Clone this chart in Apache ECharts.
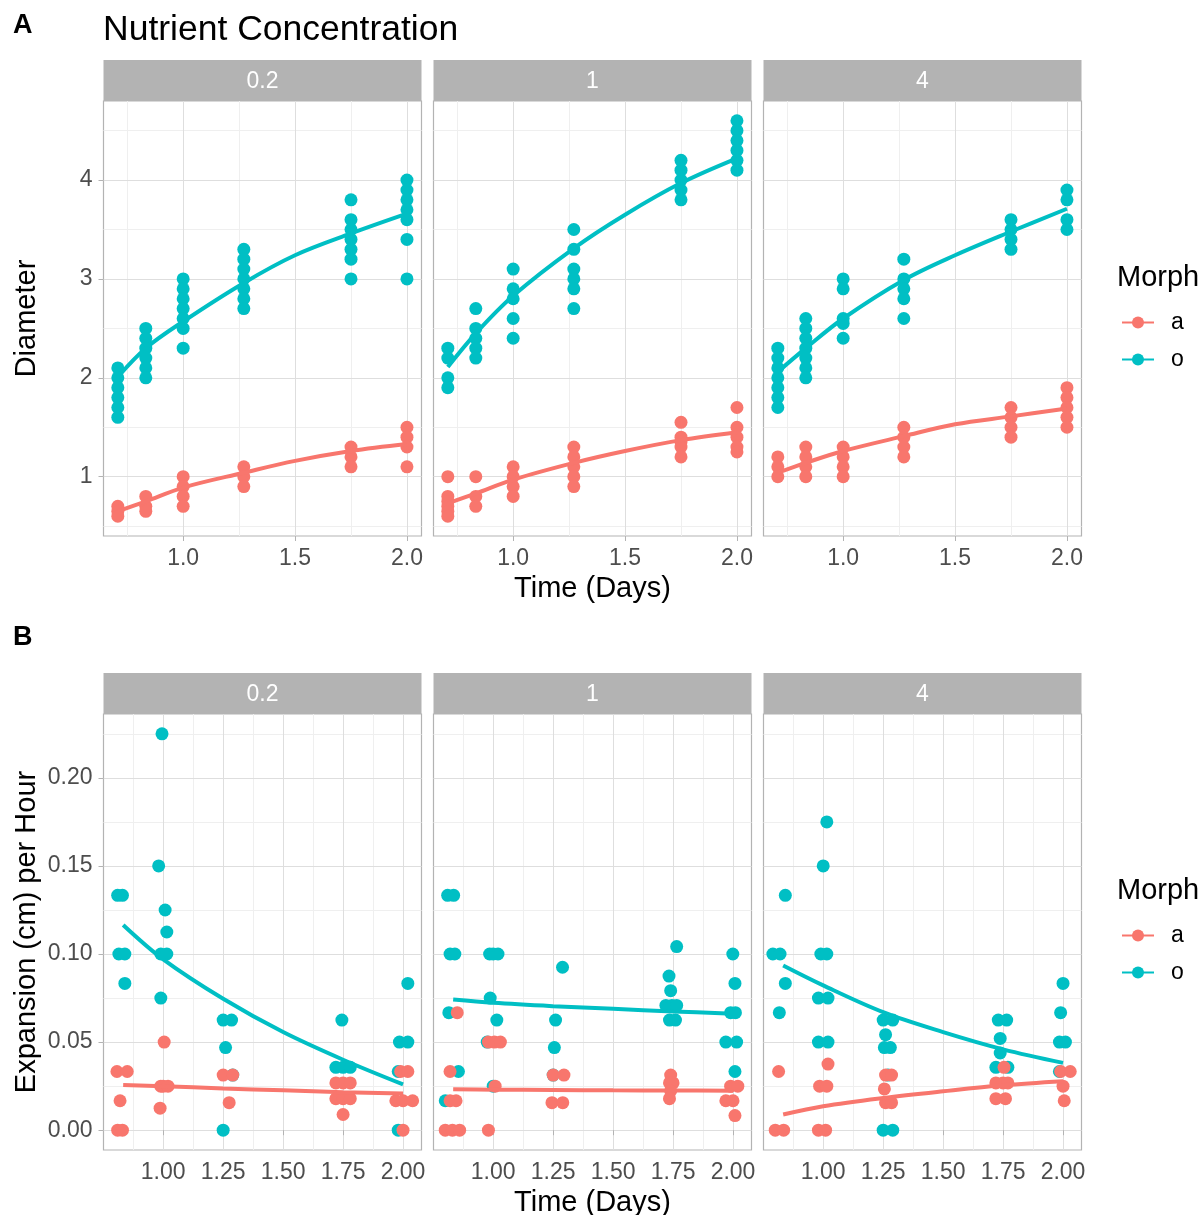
<!DOCTYPE html>
<html>
<head>
<meta charset="utf-8">
<title>Nutrient Concentration</title>
<script src="https://cdn.jsdelivr.net/npm/echarts@6/dist/echarts.min.js"></script>
<style>
  html, body { margin: 0; padding: 0; background: #ffffff; }
  #chart { width: 1204px; height: 1215px; }
</style>
</head>
<body>
<div id="chart"></div>
<script>
// ---------- data ----------
const facetLabels = ['0.2', '1', '4'];
const morphs = ['a', 'o'];

// Panel A: sampling times (days) and diameters measured at each time
const timesA = [0.708, 0.833, 1.0, 1.271, 1.75, 2.0];

const diamA_02 = [[0.7, 0.65, 0.6], [0.8, 0.7, 0.65], [1.0, 0.9, 0.8, 0.7], [1.1, 1.0, 0.9], [1.3, 1.2, 1.1], [1.5, 1.4, 1.3, 1.1]];
const diamO_02 = [[2.1, 2.0, 1.9, 1.8, 1.7, 1.6], [2.5, 2.4, 2.3, 2.2, 2.1, 2.0], [3.0, 2.9, 2.8, 2.7, 2.6, 2.5, 2.3], [3.3, 3.2, 3.1, 3.0, 2.9, 2.8, 2.7], [3.8, 3.6, 3.5, 3.4, 3.3, 3.2, 3.0], [4.0, 3.9, 3.8, 3.7, 3.6, 3.4, 3.0]];
const diamA_1 = [[1.0, 0.8, 0.75, 0.7, 0.65, 0.6], [1.0, 0.8, 0.7], [1.1, 1.0, 0.9, 0.8], [1.3, 1.2, 1.1, 1.0, 0.9], [1.55, 1.4, 1.35, 1.3, 1.2], [1.7, 1.5, 1.4, 1.3, 1.25]];
const diamO_1 = [[2.3, 2.2, 2.0, 1.9], [2.7, 2.5, 2.4, 2.3, 2.2], [3.1, 2.9, 2.8, 2.6, 2.4], [3.5, 3.3, 3.1, 3.0, 2.9, 2.7], [4.2, 4.1, 4.0, 3.9, 3.8], [4.6, 4.5, 4.4, 4.3, 4.2, 4.1]];
const diamA_4 = [[1.2, 1.1, 1.0], [1.3, 1.2, 1.1, 1.0], [1.3, 1.2, 1.1, 1.0], [1.5, 1.4, 1.3, 1.2], [1.7, 1.6, 1.5, 1.4], [1.9, 1.8, 1.7, 1.6, 1.5]];
const diamO_4 = [[2.3, 2.2, 2.1, 2.0, 1.9, 1.8, 1.7], [2.6, 2.5, 2.4, 2.3, 2.2, 2.1, 2.0], [3.0, 2.9, 2.6, 2.55, 2.4], [3.2, 3.0, 2.9, 2.8, 2.6], [3.6, 3.5, 3.4, 3.3], [3.9, 3.8, 3.6, 3.5]];

// Panel A: fitted growth curves [time, diameter]
const fitDiamA_02 = [[0.708, 0.65], [0.833, 0.75], [1.0, 0.89], [1.271, 1.04], [1.5, 1.16], [1.75, 1.26], [2.0, 1.33]];
const fitDiamO_02 = [[0.708, 2.01], [0.833, 2.30], [1.0, 2.57], [1.271, 2.96], [1.5, 3.24], [1.75, 3.46], [2.0, 3.66]];
const fitDiamA_1 = [[0.708, 0.73], [0.833, 0.83], [1.0, 0.97], [1.271, 1.14], [1.5, 1.26], [1.75, 1.37], [2.0, 1.45]];
const fitDiamO_1 = [[0.708, 2.11], [0.833, 2.45], [1.0, 2.83], [1.271, 3.31], [1.5, 3.65], [1.75, 3.97], [2.0, 4.22]];
const fitDiamA_4 = [[0.708, 1.04], [0.833, 1.14], [1.0, 1.26], [1.271, 1.41], [1.5, 1.53], [1.75, 1.61], [2.0, 1.69]];
const fitDiamO_4 = [[0.708, 2.06], [0.833, 2.30], [1.0, 2.60], [1.271, 2.99], [1.5, 3.24], [1.75, 3.48], [2.0, 3.71]];

// Panel B: expansion rate (cm per hour), jittered in time [time, rate]
const rateA_02 = [[0.807, 0.0333], [0.85, 0.0333], [0.82, 0.0167], [0.81, 0.0], [0.83, 0.0], [1.004, 0.05], [0.99, 0.025], [1.0, 0.025], [1.02, 0.025], [0.987, 0.0125], [1.25, 0.0313], [1.29, 0.0313], [1.275, 0.0156], [1.72, 0.0268], [1.75, 0.0268], [1.78, 0.0268], [1.72, 0.0179], [1.75, 0.0179], [1.78, 0.0179], [1.75, 0.0089], [1.99, 0.0333], [2.02, 0.0333], [1.97, 0.0167], [2.0, 0.0167], [2.04, 0.0167], [2.0, 0.0]];
const rateO_02 = [[0.995, 0.225], [0.981, 0.15], [0.81, 0.1333], [0.83, 0.1333], [1.008, 0.125], [1.015, 0.1125], [0.815, 0.1], [0.84, 0.1], [0.99, 0.1], [1.015, 0.1], [0.84, 0.0833], [0.99, 0.075], [1.25, 0.0625], [1.285, 0.0625], [1.26, 0.0469], [1.29, 0.0313], [1.25, 0.0], [1.745, 0.0625], [1.72, 0.0357], [1.75, 0.0357], [1.78, 0.0357], [1.985, 0.05], [2.02, 0.05], [2.02, 0.0833], [1.98, 0.0333], [1.98, 0.0]];
const rateA_1 = [[0.85, 0.0667], [0.82, 0.0333], [0.82, 0.0167], [0.845, 0.0167], [0.80, 0.0], [0.83, 0.0], [0.86, 0.0], [0.98, 0.05], [1.005, 0.05], [1.03, 0.05], [1.008, 0.025], [0.98, 0.0], [1.25, 0.0313], [1.295, 0.0313], [1.245, 0.0156], [1.29, 0.0156], [1.74, 0.0313], [1.735, 0.0268], [1.75, 0.0268], [1.74, 0.0223], [1.735, 0.0179], [1.99, 0.025], [2.02, 0.025], [1.97, 0.0167], [2.0, 0.0167], [2.008, 0.0083]];
const rateO_1 = [[0.81, 0.1333], [0.835, 0.1333], [0.82, 0.1], [0.84, 0.1], [0.985, 0.1], [1.0, 0.1], [1.02, 0.1], [0.9875, 0.075], [0.815, 0.0667], [1.015, 0.0625], [0.975, 0.05], [0.855, 0.0333], [0.80, 0.0167], [1.0, 0.025], [1.289, 0.0925], [1.26, 0.0625], [1.255, 0.0469], [1.25, 0.0313], [1.765, 0.1042], [1.733, 0.0875], [1.74, 0.0792], [1.72, 0.0708], [1.745, 0.0708], [1.765, 0.0708], [1.735, 0.0625], [1.76, 0.0625], [1.999, 0.1], [2.008, 0.0833], [1.99, 0.0667], [2.01, 0.0667], [1.97, 0.05], [2.015, 0.05], [2.008, 0.0333]];
const rateA_4 = [[0.814, 0.0333], [0.80, 0.0], [0.835, 0.0], [1.02, 0.0375], [0.985, 0.025], [1.015, 0.025], [0.98, 0.0], [1.01, 0.0], [1.26, 0.0313], [1.285, 0.0313], [1.255, 0.0234], [1.26, 0.0156], [1.285, 0.0156], [1.754, 0.0357], [1.72, 0.0268], [1.75, 0.0268], [1.77, 0.0268], [1.72, 0.0179], [1.76, 0.0179], [1.99, 0.0333], [2.03, 0.0333], [2.0, 0.025], [2.005, 0.0167]];
const rateO_4 = [[0.842, 0.1333], [0.79, 0.1], [0.82, 0.1], [0.842, 0.0833], [0.817, 0.0667], [1.015, 0.175], [1.0, 0.15], [0.99, 0.1], [1.015, 0.1], [0.98, 0.075], [1.02, 0.075], [0.98, 0.05], [1.02, 0.05], [1.25, 0.0625], [1.29, 0.0625], [1.26, 0.0542], [1.255, 0.0469], [1.28, 0.0469], [1.27, 0.0313], [1.25, 0.0], [1.29, 0.0], [1.73, 0.0625], [1.765, 0.0625], [1.738, 0.0521], [1.738, 0.0438], [1.72, 0.0357], [1.77, 0.0357], [2.0, 0.0833], [1.99, 0.0667], [1.985, 0.05], [2.01, 0.05], [1.985, 0.0333]];

// Panel B: fitted rate curves [time, rate]
const fitRateA_02 = [[0.833, 0.0257], [1.0, 0.025], [1.25, 0.0237], [1.5, 0.0226], [1.75, 0.0216], [2.0, 0.0208]];
const fitRateO_02 = [[0.833, 0.1165], [1.0, 0.097], [1.25, 0.0746], [1.5, 0.0557], [1.75, 0.040], [2.0, 0.026]];
const fitRateA_1 = [[0.833, 0.0232], [1.0, 0.0230], [1.25, 0.0228], [1.5, 0.0226], [1.75, 0.0225], [2.0, 0.0224]];
const fitRateO_1 = [[0.833, 0.0742], [1.0, 0.0723], [1.25, 0.0704], [1.5, 0.0689], [1.75, 0.0674], [2.0, 0.0661]];
const fitRateA_4 = [[0.833, 0.0089], [1.0, 0.0136], [1.25, 0.0183], [1.5, 0.0221], [1.75, 0.0255], [2.0, 0.0278]];
const fitRateO_4 = [[0.833, 0.0935], [1.0, 0.0822], [1.25, 0.067], [1.5, 0.0557], [1.75, 0.0459], [2.0, 0.0382]];

// Axis ranges and breaks
const rangeA_x = [0.644, 2.065];
const rangeA_y = [0.4, 4.8];
const rangeB_x = [0.751, 2.077];
const rangeB_y = [-0.01125, 0.23625];
const ticksA_x = [1.0, 1.5, 2.0];
const minorA_x = [0.75, 1.25, 1.75];
const ticksA_y = [1, 2, 3, 4];
const minorA_y = [0.5, 1.5, 2.5, 3.5, 4.5];
const ticksB_x = [1.0, 1.25, 1.5, 1.75, 2.0];
const minorB_x = [0.875, 1.125, 1.375, 1.625, 1.875];
const ticksB_y = [0, 0.05, 0.1, 0.15, 0.2];
const minorB_y = [0.025, 0.075, 0.125, 0.175, 0.225];

// ---------- style & layout ----------
const FONT = '"Liberation Sans", Arial, Helvetica, sans-serif';
const COLORS = { a: '#F8766D', o: '#00BFC4' };
const STRIP_FILL = '#B3B3B3';
const PANEL_LEFTS = [103.5, 433.5, 763.5];
const PANEL_W = 318;
const ROWS = [
  { stripTop: 60, top: 101, height: 435 },
  { stripTop: 673, top: 714, height: 436 }
];
const STRIP_H = 41;

function expand(times, groups) {
  const out = [];
  groups.forEach((vals, i) => vals.forEach(v => out.push([times[i], v])));
  return out;
}

const panelA = [
  { a: expand(timesA, diamA_02), o: expand(timesA, diamO_02), fa: fitDiamA_02, fo: fitDiamO_02 },
  { a: expand(timesA, diamA_1), o: expand(timesA, diamO_1), fa: fitDiamA_1, fo: fitDiamO_1 },
  { a: expand(timesA, diamA_4), o: expand(timesA, diamO_4), fa: fitDiamA_4, fo: fitDiamO_4 }
];
const panelB = [
  { a: rateA_02, o: rateO_02, fa: fitRateA_02, fo: fitRateO_02 },
  { a: rateA_1, o: rateO_1, fa: fitRateA_1, fo: fitRateO_1 },
  { a: rateA_4, o: rateO_4, fa: fitRateA_4, fo: fitRateO_4 }
];

const grids = [], xAxes = [], yAxes = [], series = [], graphics = [];

function majorAxis(gridIndex, range, ticks, digits, showAxis, position) {
  return {
    type: 'value', gridIndex, position, min: range[0], max: range[1], z: 1,
    axisLine: { show: false },
    axisTick: { show: showAxis, length: 5, customValues: ticks, lineStyle: { color: STRIP_FILL, width: 1 } },
    axisLabel: {
      show: showAxis, customValues: ticks, formatter: v => Number(v).toFixed(digits),
      color: '#4D4D4D', fontSize: 23, fontFamily: FONT, margin: 11
    },
    splitLine: { show: true, lineStyle: { color: '#DEDEDE', width: 1 } }
  };
}
function minorAxis(gridIndex, range, ticks, position) {
  return {
    type: 'value', gridIndex, position, min: range[0], max: range[1], z: 0,
    axisLine: { show: false },
    axisTick: { show: false, customValues: ticks },
    axisLabel: { show: false, customValues: ticks },
    splitLine: { show: true, lineStyle: { color: '#EFEFEF', width: 1 } }
  };
}

const rowDefs = [
  { panels: panelA, rx: rangeA_x, ry: rangeA_y, tx: ticksA_x, mx: minorA_x, ty: ticksA_y, my: minorA_y, dx: 1, dy: 0, yName: 'Diameter' },
  { panels: panelB, rx: rangeB_x, ry: rangeB_y, tx: ticksB_x, mx: minorB_x, ty: ticksB_y, my: minorB_y, dx: 2, dy: 2, yName: 'Expansion (cm) per Hour' }
];

rowDefs.forEach((def, r) => {
  const row = ROWS[r];
  def.panels.forEach((p, f) => {
    const g = grids.length;
    grids.push({
      left: PANEL_LEFTS[f], top: row.top, width: PANEL_W, height: row.height,
      outerBoundsMode: 'none', containLabel: false,
      show: true, backgroundColor: '#ffffff', borderColor: STRIP_FILL, borderWidth: 1.2
    });
    const xi = xAxes.length;
    const xMaj = majorAxis(g, def.rx, def.tx, def.dx, true, 'bottom');
    if (f === 1) {
      Object.assign(xMaj, {
        name: 'Time (Days)', nameLocation: 'middle', nameGap: 38,
        nameTextStyle: { color: '#000000', fontSize: 29, fontFamily: FONT }
      });
    }
    xAxes.push(xMaj, minorAxis(g, def.rx, def.mx, 'top'));
    const yi = yAxes.length;
    const yMaj = majorAxis(g, def.ry, def.ty, def.dy, f === 0, 'left');
    if (f === 0) {
      Object.assign(yMaj, {
        name: def.yName, nameLocation: 'middle', nameGap: 62, nameRotate: 90,
        nameTextStyle: { color: '#000000', fontSize: 29, fontFamily: FONT }
      });
    }
    yAxes.push(yMaj, minorAxis(g, def.ry, def.my, 'right'));

    // fitted curves first so the legend picks the line+point key; drawn on top via z
    morphs.forEach(m => {
      series.push({
        type: 'line', name: m, xAxisIndex: xi, yAxisIndex: yi, z: 4,
        data: m === 'a' ? p.fa : p.fo, smooth: 0.35,
        symbol: 'circle', showSymbol: false, silent: true,
        lineStyle: { color: COLORS[m], width: 4 }, itemStyle: { color: COLORS[m] }
      });
    });
    ['o', 'a'].forEach(m => {
      series.push({
        type: 'scatter', name: m, xAxisIndex: xi, yAxisIndex: yi, z: 3,
        data: p[m], symbol: 'circle', symbolSize: 13,
        itemStyle: { color: COLORS[m], opacity: 1 }
      });
    });

    // facet strip
    graphics.push({
      type: 'rect', shape: { x: PANEL_LEFTS[f], y: row.stripTop, width: PANEL_W, height: STRIP_H },
      style: { fill: STRIP_FILL }, silent: true
    });
    graphics.push({
      type: 'text', x: PANEL_LEFTS[f] + PANEL_W / 2, y: row.stripTop + STRIP_H / 2 + 1, silent: true,
      style: { text: facetLabels[f], fill: '#ffffff', font: '23px ' + FONT, align: 'center', verticalAlign: 'middle' }
    });
  });

  // legend title
  graphics.push({
    type: 'text', x: 1117, y: row.stripTop + 218, silent: true,
    style: { text: 'Morph', fill: '#000000', font: '29px ' + FONT, align: 'left', verticalAlign: 'middle' }
  });
});

// figure labels and title
graphics.push(
  { type: 'text', x: 13, y: 26, silent: true,
    style: { text: 'A', fill: '#000000', font: 'bold 27px ' + FONT, align: 'left', verticalAlign: 'middle' } },
  { type: 'text', x: 13, y: 638, silent: true,
    style: { text: 'B', fill: '#000000', font: 'bold 27px ' + FONT, align: 'left', verticalAlign: 'middle' } },
  { type: 'text', x: 103, y: 30, silent: true,
    style: { text: 'Nutrient Concentration', fill: '#000000', font: '35.5px ' + FONT, align: 'left', verticalAlign: 'middle' } }
);

const legendBase = {
  data: morphs, orient: 'vertical', left: 1116, itemWidth: 32, itemHeight: 15, itemGap: 14,
  selectedMode: false,
  textStyle: { color: '#000000', fontSize: 23, fontFamily: FONT, lineHeight: 23, padding: [0, 0, 0, 12] }
};

const option = {
  animation: false,
  backgroundColor: '#ffffff',
  grid: grids,
  xAxis: xAxes,
  yAxis: yAxes,
  legend: [
    Object.assign({ top: ROWS[0].stripTop + 246 }, legendBase),
    Object.assign({ top: ROWS[1].stripTop + 246 }, legendBase)
  ],
  graphic: graphics,
  series: series
};

const chart = echarts.init(document.getElementById('chart'), null, { renderer: 'canvas' });
chart.setOption(option);
</script>
</body>
</html>
